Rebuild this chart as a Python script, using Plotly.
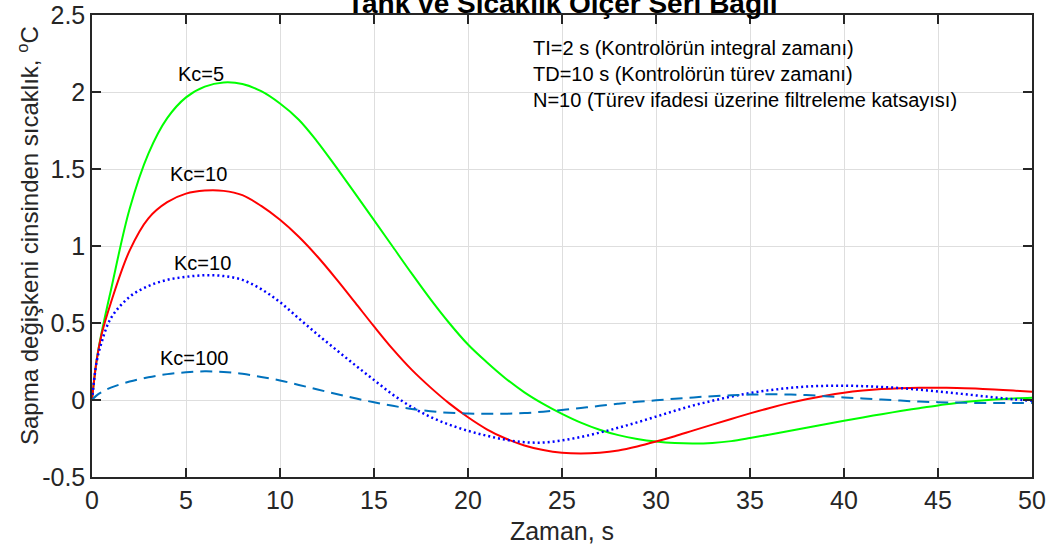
import plotly.graph_objects as go

# ---- data ----
T = [0, 0.25, 0.5] + list(range(1, 51))

KC5 = [0, 0.26, 0.43, 0.71, 1.24, 1.60, 1.83, 1.965, 2.035, 2.062, 2.052, 2.005, 1.925,
       1.82, 1.675, 1.51, 1.34, 1.168, 0.995, 0.822, 0.655, 0.50, 0.36,
       0.245, 0.14, 0.05, -0.025, -0.09, -0.147, -0.193, -0.228, -0.253, -0.27,
       -0.28, -0.283, -0.279, -0.267, -0.247, -0.225, -0.203, -0.18, -0.157, -0.135,
       -0.113, -0.092, -0.072, -0.053, -0.035, -0.02, -0.007, 0.003, 0.01, 0.014]

KC10 = [0, 0.26, 0.42, 0.63, 0.97, 1.18, 1.285, 1.34, 1.36, 1.358, 1.33, 1.26, 1.17,
        1.06, 0.93, 0.785, 0.632, 0.478, 0.33, 0.197, 0.082, -0.022, -0.112,
        -0.19, -0.25, -0.295, -0.325, -0.343, -0.348, -0.343, -0.328, -0.302, -0.27,
        -0.235, -0.197, -0.16, -0.123, -0.087, -0.053, -0.022, 0.005, 0.028, 0.047,
        0.061, 0.071, 0.077, 0.08, 0.08, 0.078, 0.074, 0.068, 0.061, 0.054]

KC10_DOT = [0, 0.25, 0.37, 0.53, 0.67, 0.74, 0.78, 0.80, 0.81, 0.805, 0.78, 0.72, 0.635,
            0.53, 0.425, 0.325, 0.226, 0.13, 0.035, -0.045, -0.11, -0.16, -0.20,
            -0.232, -0.258, -0.274, -0.276, -0.262, -0.24, -0.212, -0.18, -0.145, -0.108,
            -0.07, -0.035, -0.005, 0.022, 0.045, 0.063, 0.077, 0.087, 0.092, 0.093,
            0.09, 0.085, 0.077, 0.067, 0.055, 0.043, 0.03, 0.017, 0.005, -0.005]

KC100 = [0, 0.03, 0.05, 0.08, 0.12, 0.148, 0.168, 0.18, 0.186, 0.182, 0.17, 0.15, 0.127,
         0.098, 0.068, 0.039, 0.011, -0.015, -0.038, -0.058, -0.073, -0.083, -0.088,
         -0.09, -0.089, -0.085, -0.076, -0.065, -0.052, -0.038, -0.024, -0.012, -0.002,
         0.008, 0.017, 0.025, 0.031, 0.035, 0.037, 0.036, 0.032, 0.025, 0.017,
         0.01, 0.003, -0.004, -0.01, -0.014, -0.017, -0.019, -0.02, -0.02, -0.02]

X_TICKS = [0, 5, 10, 15, 20, 25, 30, 35, 40, 45, 50]
Y_TICKS = [-0.5, 0, 0.5, 1, 1.5, 2, 2.5]
Y_TICK_TEXT = ["-0.5", "0", "0.5", "1", "1.5", "2", "2.5"]

LABELS = ["Kc=5", "Kc=10", "Kc=10", "Kc=100"]
LABEL_X = [5.8, 5.66, 5.88, 5.43]
LABEL_Y = [2.12, 1.47, 0.888, 0.27]

INFO = ["TI=2 s (Kontrolörün integral zamanı)",
        "TD=10 s (Kontrolörün türev zamanı)",
        "N=10 (Türev ifadesi üzerine filtreleme katsayısı)"]

TITLE = "Tank ve Sıcaklık Ölçer Seri Bağlı"
XTITLE = "Zaman, s"
YTITLE = "Sapma değişkeni cinsinden sıcaklık, <sup>o</sup>C"

FONT = "Liberation Sans, Arial, Helvetica, sans-serif"
AX = "#262626"

fig = go.Figure()
fig.add_trace(go.Scatter(x=T, y=KC5, mode="lines", line=dict(color="#00ff00", width=2, shape="spline"), name="Kc=5"))
fig.add_trace(go.Scatter(x=T, y=KC10, mode="lines", line=dict(color="#ff0000", width=2, shape="spline"), name="Kc=10"))
fig.add_trace(go.Scatter(x=T, y=KC10_DOT, mode="lines", line=dict(color="#0000ff", width=2.5, shape="spline", dash="2px,3px"), name="Kc=10 (dotted)"))
fig.add_trace(go.Scatter(x=T, y=KC100, mode="lines", line=dict(color="#0072bd", width=2, shape="spline", dash="12px,7px"), name="Kc=100"))

for lab, lx, ly in zip(LABELS, LABEL_X, LABEL_Y):
    fig.add_annotation(x=lx, y=ly, text=lab, showarrow=False, xanchor="center", yanchor="middle",
                       font=dict(family=FONT, size=20, color="#000000"))

fig.add_annotation(x=23.35, y=2.115, text="<br>".join(INFO), showarrow=False, xanchor="left",
                   yanchor="middle", align="left", font=dict(family=FONT, size=20, color="#000000"))

fig.add_annotation(xref="paper", yref="paper", x=0.5, y=1.025, text=TITLE, showarrow=False,
                   xanchor="center", yanchor="middle",
                   font=dict(family=FONT, size=28, color="#000000", weight="bold"))

# y-axis title (placed like the reference, slightly above the axis centre)
fig.add_annotation(xref="paper", yref="paper", x=0, y=0.5, xshift=-64, yshift=10,
                   text=YTITLE, textangle=-90, showarrow=False, xanchor="center", yanchor="middle",
                   font=dict(family=FONT, size=24, color=AX))

axis_common = dict(showline=True, linecolor=AX, linewidth=1.5, mirror="ticks", ticks="inside",
                   ticklen=9, tickwidth=1.5, tickcolor=AX, showgrid=True, gridcolor="#dedede",
                   gridwidth=1, zeroline=False, automargin=False,
                   tickfont=dict(family=FONT, size=25, color=AX))

fig.update_xaxes(range=[0, 50], tickvals=X_TICKS,
                 title=dict(text=XTITLE, font=dict(family=FONT, size=25, color=AX), standoff=10),
                 **axis_common)
fig.update_yaxes(range=[-0.5, 2.5], tickvals=Y_TICKS, ticktext=Y_TICK_TEXT, **axis_common)

fig.update_layout(width=1047, height=550, margin=dict(l=92, r=15, t=15, b=73),
                  plot_bgcolor="white", paper_bgcolor="white", showlegend=False)

fig.write_html("out.html", config={"displayModeBar": False},
               post_script="document.body.style.margin='0';document.body.style.overflow='hidden';")
